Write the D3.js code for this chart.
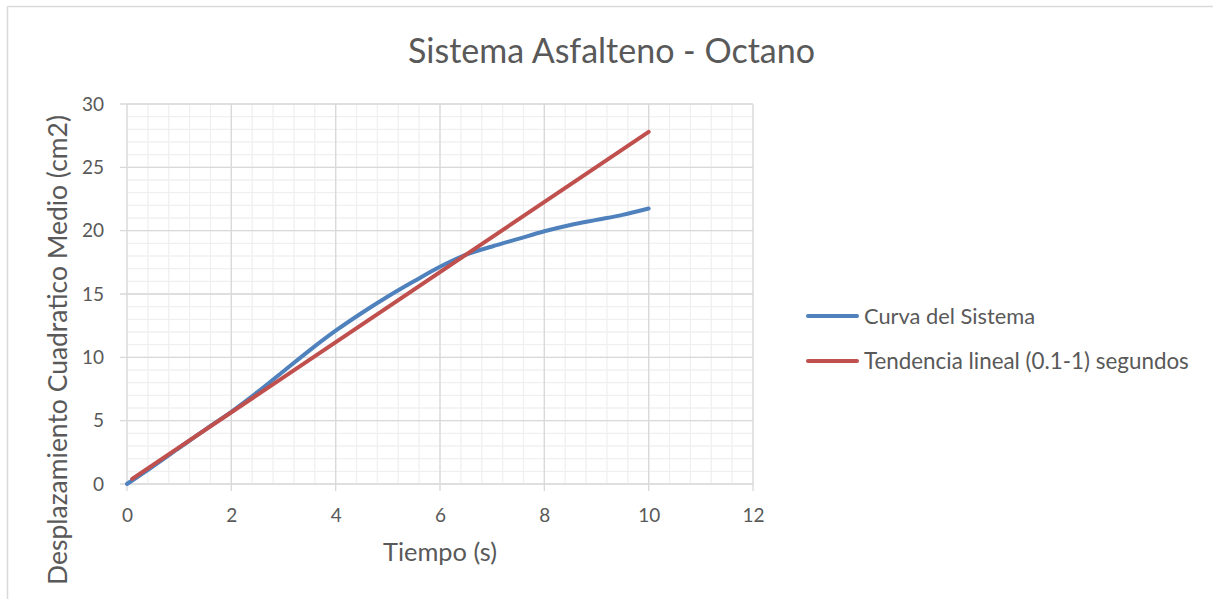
<!DOCTYPE html>
<html>
<head>
<meta charset="utf-8">
<script src="https://cdn.jsdelivr.net/npm/d3@7/dist/d3.min.js"></script>
<style>
html,body{margin:0;padding:0;background:#fff;}
svg{display:block;}
text{font-family:Lato,"Open Sans",sans-serif;fill:#595959;}
</style>
</head>
<body>
<svg id="chart" width="1213" height="599"></svg>
<script>
const titleText = "Sistema Asfalteno - Octano";
const xAxisTitle = "Tiempo (s)";
const yAxisTitle = "Desplazamiento Cuadratico Medio (cm2)";
const seriesNames = ["Curva del Sistema", "Tendencia lineal (0.1-1) segundos"];
const xTicks = [0, 2, 4, 6, 8, 10, 12];
const yTicks = [0, 5, 10, 15, 20, 25, 30];

// Curva del Sistema
const curveT = [0, 0.5, 1, 1.5, 2, 2.5, 3, 3.5, 4, 4.5, 5, 5.5, 6, 6.5, 7, 7.5, 8, 8.5, 9, 9.5, 10];
const curveV = [0, 1.4, 2.85, 4.3, 5.7, 7.25, 8.9, 10.55, 12.1, 13.5, 14.8, 16.0, 17.15, 18.1, 18.75, 19.35, 19.95, 20.45, 20.85, 21.25, 21.75];
// Tendencia lineal
const trendT = [0.1, 10];
const trendV = [0.4, 27.8];

const svg = d3.select("#chart");
const W = 1213, H = 599;

// outer chart border
svg.append("line").attr("x1",7.5).attr("y1",6.5).attr("x2",W).attr("y2",6.5).attr("stroke","#d9d9d9").attr("stroke-width",1.5);
svg.append("line").attr("x1",7.5).attr("y1",6.5).attr("x2",7.5).attr("y2",H).attr("stroke","#d9d9d9").attr("stroke-width",1.5);

const L = 127, R = 753, T = 104, B = 484;
const x = d3.scaleLinear().domain([0,12]).range([L,R]);
const y = d3.scaleLinear().domain([0,30]).range([B,T]);

const g = svg.append("g");
// minor grid
const xMinor = d3.range(0, 12.0001, 0.4).map(v=>+v.toFixed(2));
const yMinor = d3.range(0, 30.0001, 1);
g.selectAll(".xm").data(xMinor).join("line")
  .attr("x1",d=>x(d)).attr("x2",d=>x(d)).attr("y1",T).attr("y2",B)
  .attr("stroke","#f0f0f0").attr("stroke-width",1.3);
g.selectAll(".ym").data(yMinor).join("line")
  .attr("y1",d=>y(d)).attr("y2",d=>y(d)).attr("x1",L).attr("x2",R)
  .attr("stroke","#f0f0f0").attr("stroke-width",1.3);
// major grid
g.selectAll(".xM").data(xTicks).join("line")
  .attr("x1",d=>x(d)).attr("x2",d=>x(d)).attr("y1",T).attr("y2",B+7)
  .attr("stroke","#d9d9d9").attr("stroke-width",1.3);
g.selectAll(".yM").data(yTicks).join("line")
  .attr("y1",d=>y(d)).attr("y2",d=>y(d)).attr("x1",L-7).attr("x2",R)
  .attr("stroke","#d9d9d9").attr("stroke-width",1.3);

// axes via d3 for labels
const xAxis = d3.axisBottom(x).tickValues(xTicks).tickSize(0).tickPadding(38);
const gx = svg.append("g").attr("transform",`translate(0,${B})`).call(xAxis);
gx.select(".domain").remove();
gx.selectAll("text").style("font-size","19px").style("font-family","Lato").attr("fill","#595959").attr("dy","0");

const yAxis = d3.axisLeft(y).tickValues(yTicks).tickSize(0).tickPadding(23);
const gy = svg.append("g").attr("transform",`translate(${L},0)`).call(yAxis);
gy.select(".domain").remove();
gy.selectAll("text").style("font-size","19px").style("font-family","Lato").attr("fill","#595959");

// lines
const line = d3.line().x(d=>x(d[0])).y(d=>y(d[1]));
const curveData = curveT.map((t,i)=>[t,curveV[i]]);
const trendData = trendT.map((t,i)=>[t,trendV[i]]);
svg.append("path").datum(curveData).attr("d", line.curve(d3.curveCatmullRom.alpha(0.5)))
  .attr("fill","none").attr("stroke","#4f81bd").attr("stroke-width",4).attr("stroke-linecap","round").attr("stroke-linejoin","round");
svg.append("path").datum(trendData).attr("d", d3.line().x(d=>x(d[0])).y(d=>y(d[1])))
  .attr("fill","none").attr("stroke","#c0504d").attr("stroke-width",4).attr("stroke-linecap","round");

function fit(sel, target){
  const w = sel.node().getComputedTextLength();
  const fs = parseFloat(sel.style("font-size"));
  sel.style("font-size", (fs*target/w).toFixed(2)+"px");
}

// title
const tt = svg.append("text").attr("x",611.5).attr("y",63).attr("text-anchor","middle").style("font-size","28px").text(titleText);
fit(tt, 407);
// x title
const xt = svg.append("text").attr("x",440).attr("y",561).attr("text-anchor","middle").style("font-size","20px").text(xAxisTitle);
fit(xt, 114);
// y title
const yt = svg.append("text").attr("transform","translate(67,350) rotate(-90)").attr("text-anchor","middle").style("font-size","20px").text(yAxisTitle);
fit(yt, 470);

// legend
const legY = [316, 361];
const colors = ["#4f81bd","#c0504d"];
const legW = [171, 325];
seriesNames.forEach((n,i)=>{
  svg.append("line").attr("x1",808).attr("x2",857).attr("y1",legY[i]).attr("y2",legY[i])
    .attr("stroke",colors[i]).attr("stroke-width",4).attr("stroke-linecap","round");
  const t = svg.append("text").attr("x",864).attr("y",legY[i]).attr("dy","0.35em").style("font-size","19px").text(n);
  fit(t, legW[i]);
});
</script>
</body>
</html>
